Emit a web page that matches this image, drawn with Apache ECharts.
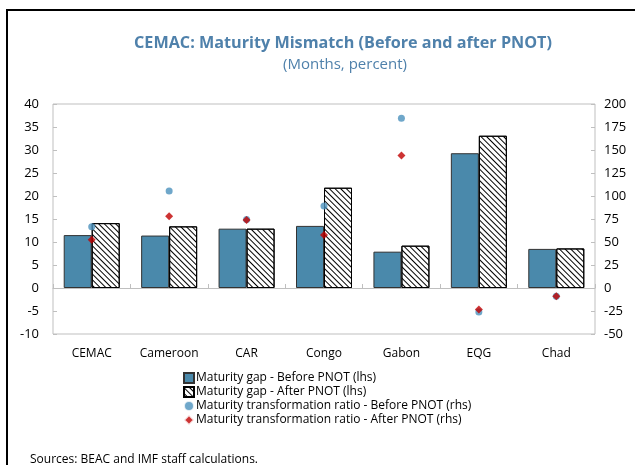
<!DOCTYPE html>
<html>
<head>
<meta charset="utf-8">
<script src="https://cdn.jsdelivr.net/npm/echarts@6/dist/echarts.min.js"></script>
<style>
html,body{margin:0;padding:0;background:#fff;}
#chart{width:635px;height:465px;}
</style>
</head>
<body>
<div id="chart"></div>
<script>
const categories = ['CEMAC','Cameroon','CAR','Congo','Gabon','EQG','Chad'];
const gapBefore = [11.5, 11.4, 12.9, 13.5, 7.9, 29.3, 8.5];
const gapAfter = [14.1, 13.4, 12.9, 21.8, 9.2, 33.1, 8.6];
const ratioBefore = [66.5, 105.5, 74.5, 89, 184.5, -26, -9];
const ratioAfter = [52.5, 78, 74, 57.5, 144, -23.5, -9];
const leftTicks = {min: -10, max: 40, interval: 5};
const rightTicks = {min: -50, max: 200, interval: 25};
const names = ['Maturity gap - Before PNOT (lhs)', 'Maturity gap - After PNOT (lhs)',
  'Maturity transformation ratio - Before PNOT (rhs)', 'Maturity transformation ratio - After PNOT (rhs)'];

const FONT = '"Open Sans", "Noto Sans", sans-serif';
const chart = echarts.init(document.getElementById('chart'), null, {renderer: 'canvas'});
const hatch = {
  symbol: 'rect', color: '#000', dashArrayX: [1, 0], dashArrayY: [1, 2.6],
  rotation: Math.PI / 4, symbolSize: 1
};
chart.setOption({
  animation: false,
  textStyle: {fontFamily: FONT},
  title: [
    {text: 'CEMAC: Maturity Mismatch (Before and after PNOT)', left: 338, textAlign: 'center', top: 30,
     textStyle: {fontFamily: FONT, fontSize: 16.2, fontWeight: 'bold', color: '#4f81ab'}},
    {text: '(Months, percent)', left: 340, textAlign: 'center', top: 52,
     textStyle: {fontFamily: FONT, fontSize: 15, fontWeight: 'normal', color: '#4f81ab'}},
    {text: 'Sources: BEAC and IMF staff calculations.', left: 25, top: 449,
     textStyle: {fontFamily: FONT, fontSize: 12, fontWeight: 'normal', color: '#000'}}
  ],
  graphic: [
    {type: 'line', shape: {x1: 6, y1: 10, x2: 635, y2: 10}, style: {stroke: '#000', lineWidth: 2}},
    {type: 'line', shape: {x1: 7, y1: 10, x2: 7, y2: 465}, style: {stroke: '#000', lineWidth: 2}}
  ],
  legend: {
    orient: 'vertical', left: 178, top: 367, itemWidth: 10, itemHeight: 10, itemGap: 2,
    textStyle: {fontFamily: FONT, fontSize: 12, color: '#000', padding: [0, 0, 0, -3]},
    data: [
      {name: names[0], icon: 'rect'},
      {name: names[1], icon: 'rect'},
      {name: names[2], icon: 'circle', itemStyle: {borderColor: '#fff', borderWidth: 2}},
      {name: names[3], icon: 'diamond', itemStyle: {borderColor: '#fff', borderWidth: 2}}
    ]
  },
  grid: {left: 53, right: 40, top: 104, bottom: 131, show: true, borderColor: '#bfbfbf', borderWidth: 1},
  xAxis: [
    {type: 'category', data: categories, position: 'bottom', axisLine: {show: false, onZero: false},
     axisTick: {show: false}, axisLabel: {fontSize: 12, color: '#000', margin: 14}},
    {type: 'category', data: categories, position: 'bottom',
     axisLine: {show: true, onZero: true, lineStyle: {color: '#bfbfbf', width: 1}},
     axisTick: {show: true, inside: true, length: 4, lineStyle: {color: '#bfbfbf'}}, axisLabel: {show: false}}
  ],
  yAxis: [
    {type: 'value', min: leftTicks.min, max: leftTicks.max, interval: leftTicks.interval, position: 'left',
     axisLine: {show: false}, axisTick: {show: true, inside: true, length: 4, lineStyle: {color: '#bfbfbf'}},
     splitLine: {show: false}, axisLabel: {fontSize: 13, color: '#000', margin: 14}},
    {type: 'value', min: rightTicks.min, max: rightTicks.max, interval: rightTicks.interval, position: 'right',
     axisLine: {show: false}, axisTick: {show: true, inside: true, length: 4, lineStyle: {color: '#bfbfbf'}},
     splitLine: {show: false}, axisLabel: {fontSize: 13, color: '#000', margin: 9}}
  ],
  series: [
    {name: names[0], type: 'bar', data: gapBefore, barWidth: 28, barGap: '0%',
     itemStyle: {color: '#4a89ab', borderColor: '#333', borderWidth: 1}},
    {name: names[1], type: 'bar', data: gapAfter, barWidth: 28,
     itemStyle: {color: '#fff', borderColor: '#000', borderWidth: 1, decal: hatch}},
    {name: names[2], type: 'scatter', yAxisIndex: 1, data: ratioBefore, symbol: 'circle', symbolSize: 7,
     itemStyle: {color: '#4b91bd'}, z: 5},
    {name: names[3], type: 'scatter', yAxisIndex: 1, data: ratioAfter, symbol: 'diamond', symbolSize: 8,
     itemStyle: {color: '#c00000'}, z: 6}
  ]
});
</script>
</body>
</html>
